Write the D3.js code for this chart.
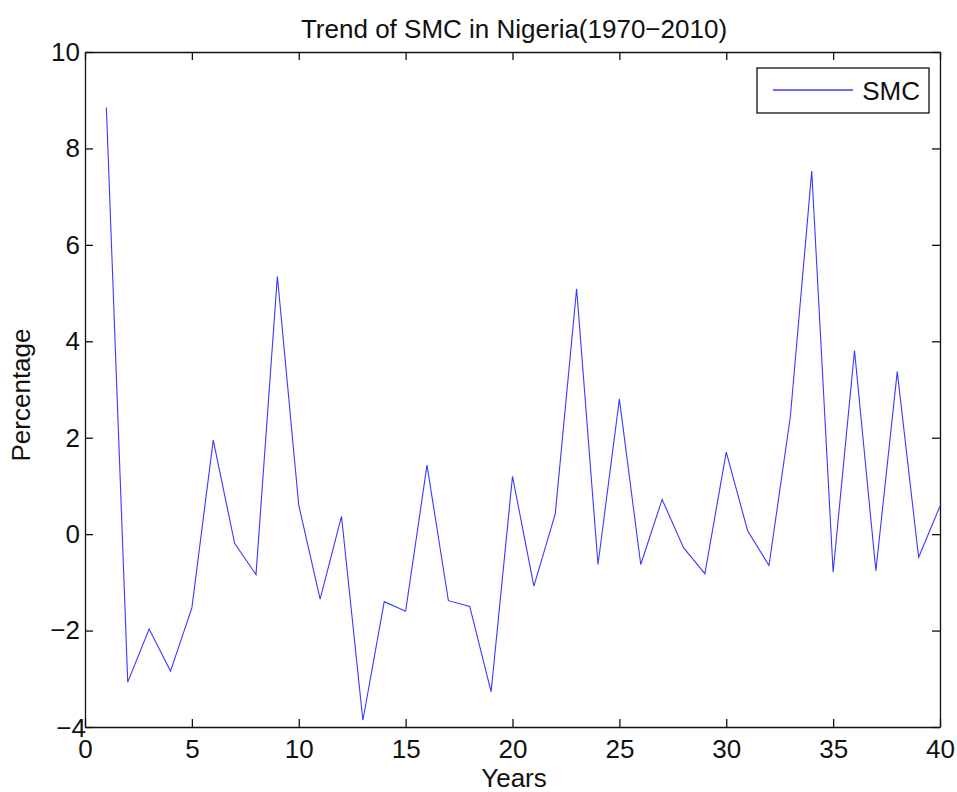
<!DOCTYPE html>
<html>
<head>
<meta charset="utf-8">
<script src="https://cdn.jsdelivr.net/npm/d3@7"></script>
<style>
  body { margin: 0; background: #fff; }
  svg text { font-family: "Liberation Sans Narrow", "Liberation Sans", Arial, sans-serif; fill: #111; }
</style>
</head>
<body>
<div id="chart"></div>
<script>
// year index 1..40 and SMC percentage
const years = d3.range(1, 41);
const smc = [8.85, -3.07, -1.97, -2.84, -1.53, 1.95, -0.19, -0.84, 5.35, 0.6,
             -1.35, 0.37, -3.86, -1.4, -1.6, 1.43, -1.38, -1.5, -3.27, 1.2,
             -1.08, 0.42, 5.09, -0.63, 2.8, -0.63, 0.72, -0.28, -0.82, 1.7,
             0.07, -0.65, 2.44, 7.53, -0.79, 3.81, -0.76, 3.37, -0.48, 0.58];
const xTicks = [0, 5, 10, 15, 20, 25, 30, 35, 40];
const yTicks = [-4, -2, 0, 2, 4, 6, 8, 10];

const width = 957, height = 792;
const margin = { top: 52, right: 17, bottom: 65, left: 85 };

const svg = d3.select("#chart").append("svg")
    .attr("width", width)
    .attr("height", height);

const x = d3.scaleLinear().domain([0, 40]).range([margin.left, width - margin.right]);
const y = d3.scaleLinear().domain([-4, 10]).range([height - margin.bottom, margin.top]);

// axes with inward ticks, mirrored on top and right
svg.append("g")
    .attr("transform", `translate(0,${y(-4)})`)
    .call(d3.axisBottom(x).tickValues(xTicks).tickSizeInner(-8).tickSizeOuter(0).tickPadding(13))
    .call(g => g.selectAll("text").attr("font-size", 26).attr("dy", "0.71em"));

svg.append("g")
    .attr("transform", `translate(0,${y(10)})`)
    .call(d3.axisTop(x).tickValues(xTicks).tickSizeInner(-8).tickSizeOuter(0))
    .call(g => g.selectAll("text").remove());

svg.append("g")
    .attr("transform", `translate(${x(0)},0)`)
    .call(d3.axisLeft(y).tickValues(yTicks).tickSizeInner(-8).tickSizeOuter(0).tickPadding(5))
    .call(g => g.selectAll("text").attr("font-size", 26))
    // matlab nudges the bottom label onto the corner
    .call(g => g.selectAll(".tick").filter(d => d === -4).select("text")
        .attr("dx", 6).attr("dy", "0.38em"));

svg.append("g")
    .attr("transform", `translate(${x(40)},0)`)
    .call(d3.axisRight(y).tickValues(yTicks).tickSizeInner(-8).tickSizeOuter(0))
    .call(g => g.selectAll("text").remove());

svg.selectAll(".domain").attr("stroke", "#111").attr("stroke-width", 1.3);
svg.selectAll(".tick line").attr("stroke", "#111").attr("stroke-width", 1.3);

// the series
const line = d3.line()
    .x((d, i) => x(years[i]))
    .y(d => y(d));

svg.append("path")
    .datum(smc)
    .attr("fill", "none")
    .attr("stroke", "#3a3aff")
    .attr("stroke-width", 1.1)
    .attr("d", line);

// legend
const leg = svg.append("g");
leg.append("rect")
    .attr("x", 757).attr("y", 68)
    .attr("width", 172).attr("height", 45)
    .attr("fill", "#fff")
    .attr("stroke", "#111")
    .attr("stroke-width", 1.3);
leg.append("line")
    .attr("x1", 773).attr("x2", 853)
    .attr("y1", 90).attr("y2", 90)
    .attr("stroke", "#3a3aff")
    .attr("stroke-width", 1.3);
leg.append("text")
    .attr("x", 920).attr("y", 100)
    .attr("text-anchor", "end")
    .attr("font-size", 26)
    .text("SMC");

// titles
svg.append("text")
    .attr("x", 514).attr("y", 38)
    .attr("text-anchor", "middle")
    .attr("font-size", 26)
    .text("Trend of SMC in Nigeria(1970\u22122010)");

svg.append("text")
    .attr("x", 514).attr("y", 787)
    .attr("text-anchor", "middle")
    .attr("font-size", 26)
    .text("Years");

svg.append("text")
    .attr("transform", "translate(30,395) rotate(-90)")
    .attr("text-anchor", "middle")
    .attr("font-size", 26)
    .text("Percentage");
</script>
</body>
</html>
